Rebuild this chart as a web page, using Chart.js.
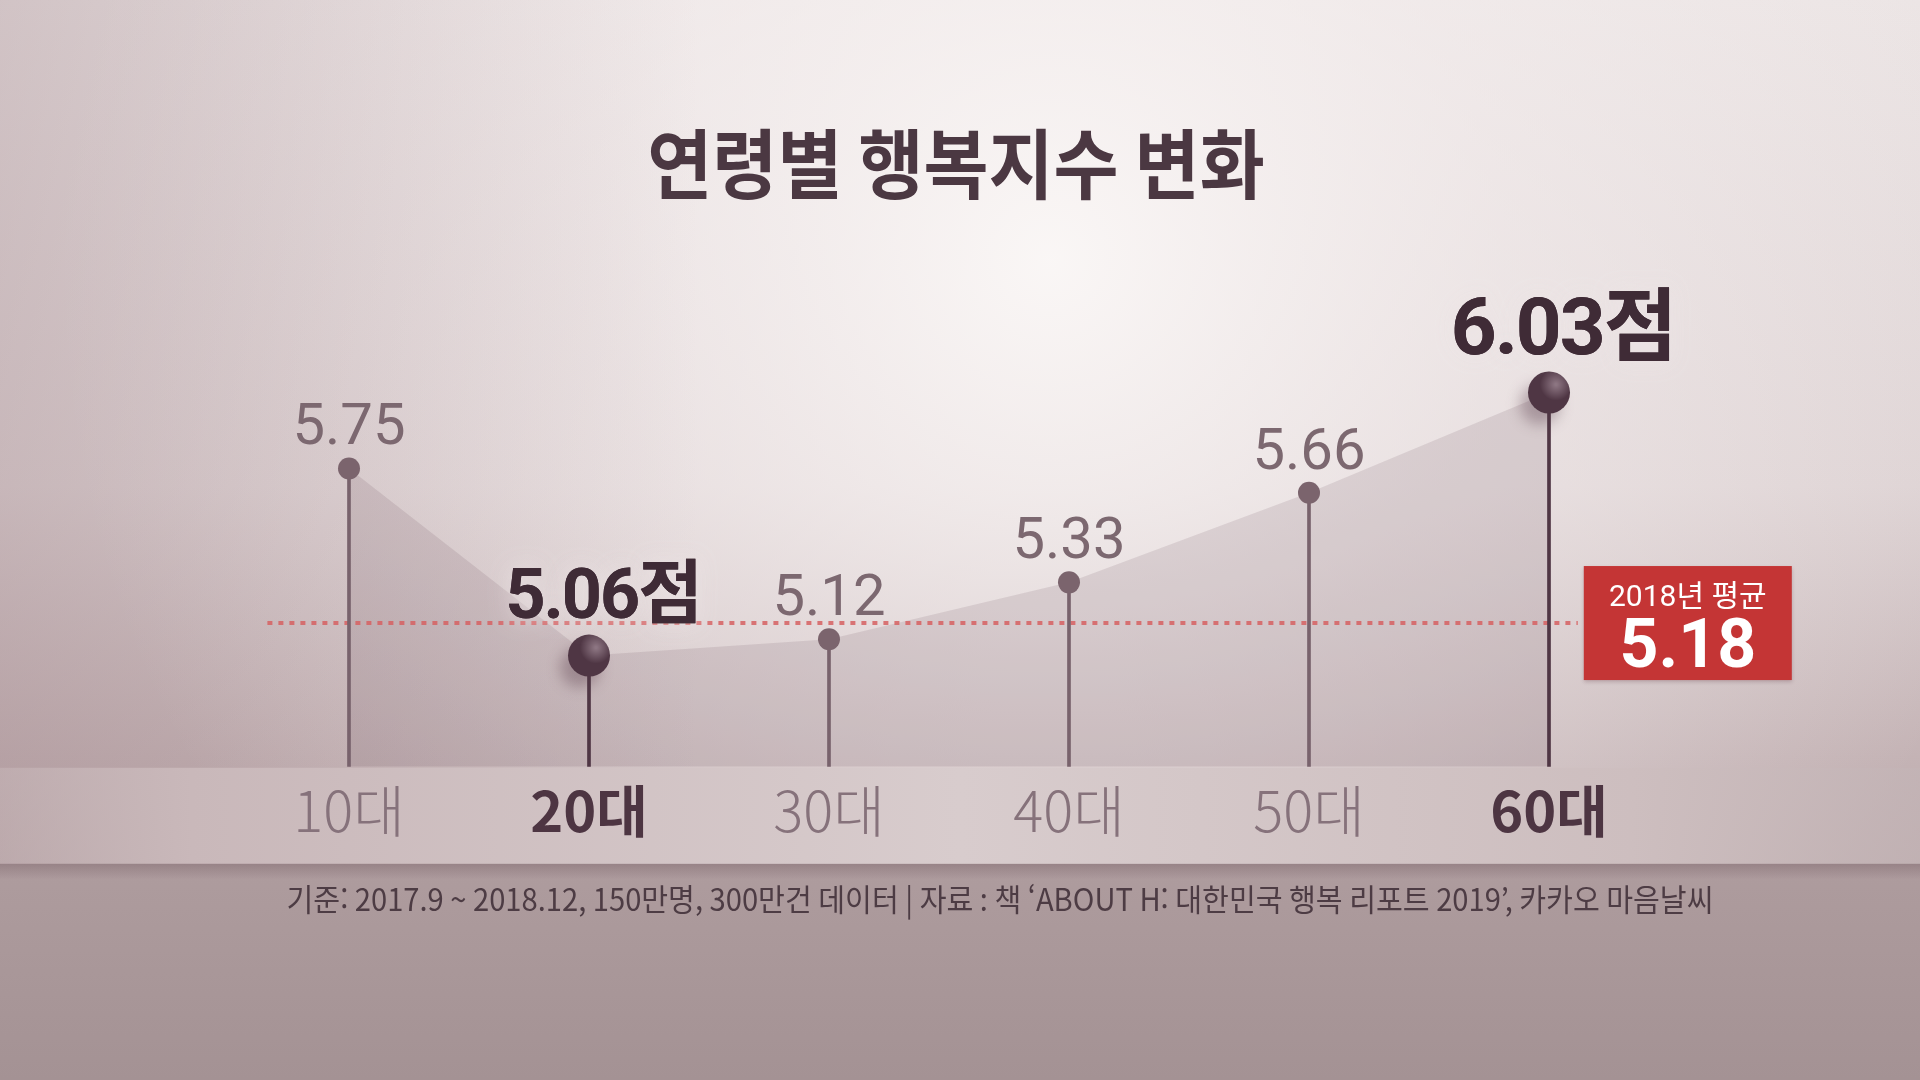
<!DOCTYPE html>
<html lang="ko">
<head>
<meta charset="utf-8">
<title>연령별 행복지수 변화</title>
<script src="https://cdn.jsdelivr.net/npm/chart.js@4.4.1/dist/chart.umd.min.js"></script>
<style>
  html, body { margin: 0; padding: 0; background: #d8cbcc; overflow: hidden; }
  #wrap { width: 1920px; height: 1080px; }
  canvas { display: block; }
</style>
</head>
<body>
<div id="wrap"><canvas id="happyChart" width="1920" height="1080"></canvas></div>
<script>
const TITLE = "연령별 행복지수 변화";
const AGE_GROUPS = ["10대", "20대", "30대", "40대", "50대", "60대"];
const HAPPY_SCORES = [5.75, 5.06, 5.12, 5.33, 5.66, 6.03];
const HIGHLIGHT_IDX = [1, 5]; // lowest and highest get the big "점" labels
const AVG_2018 = 5.18;
const AVG_LABEL = "2018년 평균";
const AVG_LINE_X = [-0.34, 5.12]; // dotted line extent, in category units
const NOTE = "기준: 2017.9 ~ 2018.12, 150만명, 300만건 데이터 | 자료 : 책 ‘ABOUT H: 대한민국 행복 리포트 2019’, 카카오 마음날씨";

const Y_MIN = 4.65;
const Y_MAX = 6.5;

const KR = '"Noto Sans CJK KR", sans-serif';
const NUM = 'Roboto, "Noto Sans CJK KR", sans-serif';

const DARK = "#3f2b36";
const PLUM = "#4f3644";
const MAUVE = "#78626c";

function isBig(i) {
  return HIGHLIGHT_IDX.includes(i);
}

// background, label band and footer strip
const backdropPlugin = {
  id: "backdrop",
  beforeDraw(chart) {
    const { ctx, width, height, chartArea } = chart;
    ctx.save();

    let g = ctx.createLinearGradient(0, 0, 0, height);
    g.addColorStop(0, "#ebe4e4");
    g.addColorStop(0.45, "#ddd2d3");
    g.addColorStop(0.7, "#c4b3b5");
    g.addColorStop(1, "#a99798");
    ctx.fillStyle = g;
    ctx.fillRect(0, 0, width, height);

    // soft light in the upper middle
    const r = ctx.createRadialGradient(1050, 260, 0, 1050, 260, 1000);
    r.addColorStop(0, "rgba(251,248,247,0.95)");
    r.addColorStop(0.45, "rgba(246,240,240,0.5)");
    r.addColorStop(1, "rgba(246,240,240,0)");
    ctx.fillStyle = r;
    ctx.fillRect(0, 0, width, height);

    // darker left edge
    const l = ctx.createLinearGradient(0, 0, 700, 0);
    l.addColorStop(0, "rgba(150,120,127,0.3)");
    l.addColorStop(1, "rgba(150,120,127,0)");
    ctx.fillStyle = l;
    ctx.fillRect(0, 0, width, height);

    const bandTop = chartArea.bottom + 1;
    const bandBottom = bandTop + 96;

    // footer
    const f = ctx.createLinearGradient(0, bandBottom, 0, height);
    f.addColorStop(0, "#ae9c9e");
    f.addColorStop(1, "#a49294");
    ctx.fillStyle = f;
    ctx.fillRect(0, bandBottom, width, height - bandBottom);

    // band behind the age labels
    const b = ctx.createLinearGradient(0, 0, width, 0);
    b.addColorStop(0, "rgba(200,184,186,0.5)");
    b.addColorStop(0.1, "#c9b8ba");
    b.addColorStop(0.5, "#d8cccd");
    b.addColorStop(0.85, "#cdbebf");
    b.addColorStop(1, "rgba(195,180,182,0.7)");
    ctx.fillStyle = b;
    ctx.fillRect(0, bandTop, width, bandBottom - bandTop);

    // shadow under the band
    const s = ctx.createLinearGradient(0, bandBottom, 0, bandBottom + 16);
    s.addColorStop(0, "rgba(110,84,92,0.35)");
    s.addColorStop(1, "rgba(110,84,92,0)");
    ctx.fillStyle = s;
    ctx.fillRect(0, bandBottom, width, 16);

    ctx.restore();
  },
  beforeDatasetsDraw(chart) {
    // soft drop shadow under the two big dots
    const { ctx } = chart;
    const meta = chart.getDatasetMeta(0);
    ctx.save();
    ctx.filter = "blur(7px)";
    ctx.fillStyle = "rgba(70,40,55,0.32)";
    HAPPY_SCORES.forEach((v, i) => {
      if (!isBig(i)) return;
      const pt = meta.data[i];
      ctx.beginPath();
      ctx.arc(pt.x - 9, pt.y + 12, 20, 0, Math.PI * 2);
      ctx.fill();
    });
    ctx.restore();
  }
};

// value labels, title, average box, source note
const labelsPlugin = {
  id: "labels",
  afterDatasetsDraw(chart) {
    const { ctx, scales } = chart;
    const meta = chart.getDatasetMeta(0);
    const maxVal = Math.max(...HAPPY_SCORES);
    ctx.save();
    ctx.textAlign = "center";
    ctx.textBaseline = "alphabetic";

    // shine on the big dots
    HAPPY_SCORES.forEach((v, i) => {
      if (!isBig(i)) return;
      const pt = meta.data[i];
      const rg = ctx.createRadialGradient(pt.x + 7, pt.y - 8, 1, pt.x + 7, pt.y - 8, 16);
      rg.addColorStop(0, "rgba(255,235,245,0.35)");
      rg.addColorStop(1, "rgba(255,235,245,0)");
      ctx.fillStyle = rg;
      ctx.beginPath();
      ctx.arc(pt.x, pt.y, 21, 0, Math.PI * 2);
      ctx.fill();
    });

    HAPPY_SCORES.forEach((v, i) => {
      const pt = meta.data[i];
      if (isBig(i)) {
        const size = v === maxVal ? 80 : 70;
        ctx.font = `bold ${size}px ${NUM}`;
        ctx.letterSpacing = "-2px";
        ctx.fillStyle = DARK;
        // light glow that hides the dotted line behind the label
        ctx.shadowColor = "rgba(236,228,229,0.95)";
        ctx.shadowBlur = 22;
        ctx.fillText(v.toFixed(2) + "점", pt.x + 14, pt.y - 38);
        ctx.shadowBlur = 0;
        ctx.fillText(v.toFixed(2) + "점", pt.x + 14, pt.y - 38);
      } else {
        ctx.font = `400 58px ${NUM}`;
        ctx.letterSpacing = "0px";
        ctx.fillStyle = "#7c6870";
        ctx.fillText(v.toFixed(2), pt.x, pt.y - 24);
      }
    });
    ctx.letterSpacing = "0px";
    ctx.shadowColor = "transparent";

    // 2018 average box
    const yAvg = scales.y.getPixelForValue(AVG_2018);
    const bx = scales.x.getPixelForValue(AVG_LINE_X[1]) + 6;
    const bw = 208, bh = 114;
    const by = yAvg - bh / 2;
    ctx.shadowColor = "rgba(80,40,50,0.25)";
    ctx.shadowBlur = 4;
    ctx.shadowOffsetY = 2;
    ctx.fillStyle = "#c43535";
    ctx.fillRect(bx, by, bw, bh);
    ctx.shadowColor = "transparent";
    ctx.shadowOffsetY = 0;
    ctx.fillStyle = "#ffffff";
    ctx.font = `400 30px ${NUM}`;
    ctx.fillText(AVG_LABEL, bx + bw / 2, by + 40);
    ctx.font = `bold 68px ${NUM}`;
    ctx.fillText(AVG_2018.toFixed(2), bx + bw / 2, by + 101);

    // title
    ctx.save();
    ctx.translate(956, 164);
    ctx.scale(0.93, 1);
    ctx.font = `bold 76px ${KR}`;
    ctx.textBaseline = "middle";
    ctx.fillStyle = "#4b3842";
    ctx.fillText(TITLE, 0, 0);
    ctx.restore();

    // source note, squeezed like the original condensed face
    ctx.save();
    ctx.font = `400 31px ${KR}`;
    const w = ctx.measureText(NOTE).width;
    ctx.translate(1000, 899);
    ctx.scale(1427 / w, 1);
    ctx.textBaseline = "middle";
    ctx.fillStyle = "#4d3c44";
    ctx.fillText(NOTE, 0, 0);
    ctx.restore();

    ctx.restore();
  }
};

const pointData = HAPPY_SCORES.map((v, i) => ({ x: i, y: v }));

new Chart(document.getElementById("happyChart"), {
  type: "line",
  data: {
    datasets: [
      {
        label: "행복지수",
        data: pointData,
        order: 0,
        borderWidth: 0,
        borderColor: "rgba(0,0,0,0)",
        fill: "start",
        backgroundColor: "rgba(95,60,75,0.13)",
        tension: 0,
        pointRadius: (c) => (isBig(c.dataIndex) ? 21 : 11),
        pointBackgroundColor: (c) => (isBig(c.dataIndex) ? PLUM : "#7b646d"),
        pointBorderWidth: 0,
        pointHoverRadius: 0
      },
      {
        type: "bar",
        label: "stems",
        data: pointData,
        order: 1,
        base: Y_MIN,
        grouped: false,
        barThickness: 3,
        borderWidth: 0,
        backgroundColor: HAPPY_SCORES.map((v, i) => (isBig(i) ? PLUM : MAUVE))
      },
      {
        label: "2018 평균",
        data: AVG_LINE_X.map((x) => ({ x, y: AVG_2018 })),
        order: 2,
        borderColor: "rgba(214,96,98,0.85)",
        borderWidth: 4,
        borderDash: [5, 6],
        borderCapStyle: "butt",
        pointRadius: 0,
        fill: false
      }
    ]
  },
  options: {
    responsive: false,
    animation: false,
    devicePixelRatio: 1,
    layout: { padding: { left: 229, right: 251, top: 265, bottom: 234 } },
    plugins: {
      legend: { display: false },
      tooltip: { enabled: false },
      filler: { drawTime: "beforeDatasetsDraw" }
    },
    scales: {
      x: {
        type: "linear",
        min: -0.5,
        max: 5.5,
        offset: false,
        grid: { display: false },
        border: { display: false },
        afterBuildTicks: (axis) => {
          axis.ticks = AGE_GROUPS.map((_, i) => ({ value: i }));
        },
        ticks: {
          padding: 2,
          autoSkip: false,
          maxRotation: 0,
          callback: (v) => AGE_GROUPS[v] ?? "",
          font: (c) => ({
            family: KR,
            size: 56,
            weight: isBig(c.index) ? "bold" : "300",
            lineHeight: 1.2
          }),
          color: (c) => (isBig(c.index) ? "#4d3542" : "#86727b")
        }
      },
      y: {
        display: false,
        min: Y_MIN,
        max: Y_MAX
      }
    }
  },
  plugins: [backdropPlugin, labelsPlugin]
});
</script>
</body>
</html>
